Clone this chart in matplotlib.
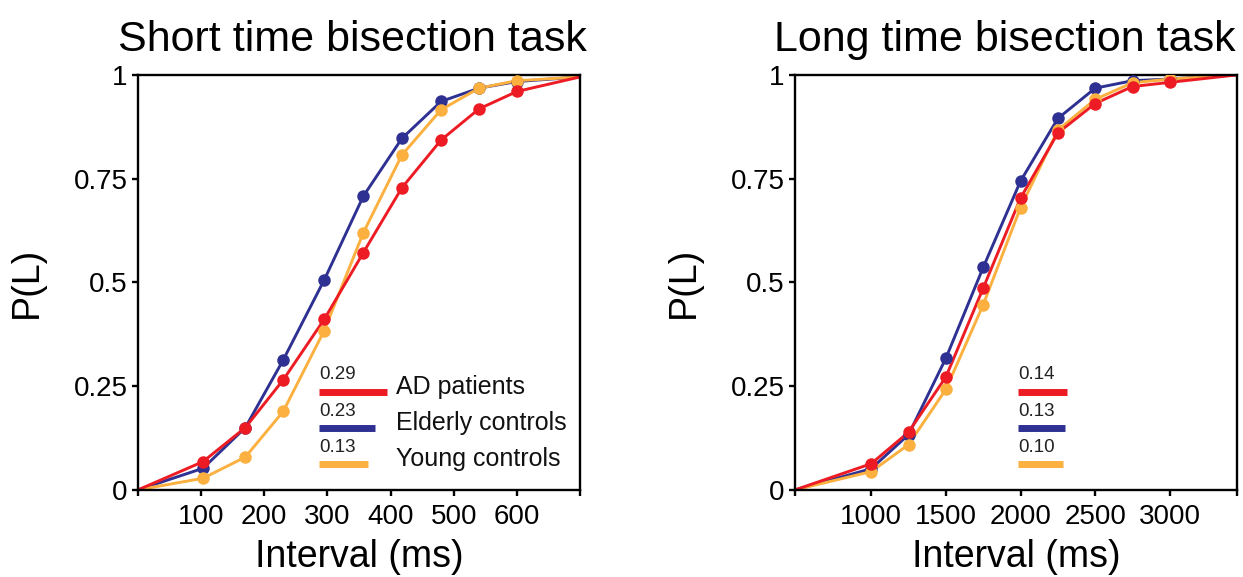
import numpy as np
import matplotlib
matplotlib.use('Agg')
import matplotlib.pyplot as plt

plt.rcParams.update({
    'font.family': ['Liberation Sans', 'DejaVu Sans'],
    'axes.linewidth': 1.7,
    'xtick.major.width': 1.7, 'ytick.major.width': 1.7,
    'xtick.major.size': 4.5, 'ytick.major.size': 4.5,
})

RED = '#ED1C24'
BLUE = '#2E3192'
ORANGE = '#FBB040'

# Short task: intervals (ms) and P(L) per group
short_x = [103, 170, 230, 295, 357, 418, 480, 540, 600]
short_ad = [0.068, 0.150, 0.265, 0.411, 0.572, 0.728, 0.843, 0.918, 0.960]
short_elderly = [0.052, 0.150, 0.313, 0.506, 0.708, 0.847, 0.936, 0.968, 0.984]
short_young = [0.028, 0.079, 0.189, 0.384, 0.620, 0.807, 0.916, 0.968, 0.986]
short_ends = [(0, 0.0), (700, 0.995)]

# Long task
long_x = [1000, 1250, 1500, 1750, 2000, 2250, 2500, 2750, 3000]
long_ad = [0.063, 0.139, 0.272, 0.486, 0.703, 0.860, 0.931, 0.972, 0.982]
long_elderly = [0.051, 0.133, 0.317, 0.536, 0.744, 0.895, 0.968, 0.986, 0.990]
long_young = [0.044, 0.109, 0.242, 0.446, 0.680, 0.867, 0.941, 0.981, 0.990]
long_ends = [(490, 0.0), (3450, 1.0)]

groups = ['AD patients', 'Elderly controls', 'Young controls']
colors = [RED, BLUE, ORANGE]
short_vals = ['0.29', '0.23', '0.13']
long_vals = ['0.14', '0.13', '0.10']

short_ticks = [0, 100, 200, 300, 400, 500, 600, 700]
short_ticklabels = ['', '100', '200', '300', '400', '500', '600', '']
long_ticks = [490, 1000, 1500, 2000, 2500, 3000, 3450]
long_ticklabels = ['', '1000', '1500', '2000', '2500', '3000', '']

fig = plt.figure(figsize=(12.43, 5.77), dpi=100)
ax1 = fig.add_axes([0.111, 0.151, 0.3556, 0.7192])
ax2 = fig.add_axes([0.6396, 0.151, 0.3556, 0.7192])


def draw_panel(ax, x, series, ends, ticks, ticklabels, title, title_x,
               vals, bar_ends, show_names):
    # blue drawn first, then orange, red on top
    for i in [1, 2, 0]:
        xs = [ends[0][0]] + list(x) + [ends[1][0]]
        ys = [ends[0][1]] + list(series[i]) + [ends[1][1]]
        ax.plot(xs, ys, color=colors[i], lw=2.1, zorder=2)
        ax.plot(x, series[i], 'o', color=colors[i], ms=9, mec='none', zorder=3)
    ax.set_xlim(ends[0][0], ends[1][0])
    ax.set_ylim(0, 1)
    ax.set_xticks(ticks)
    ax.set_xticklabels(ticklabels)
    ax.set_yticks([0, 0.25, 0.5, 0.75, 1])
    ax.set_yticklabels(['0', '0.25', '0.5', '0.75', '1'])
    ax.tick_params(labelsize=20, pad=3)
    ax.tick_params(axis='x', pad=6)
    ax.set_xlabel('Interval (ms)', fontsize=27, labelpad=6)
    ax.set_ylabel('P(L)', fontsize=27, labelpad=21)
    ax.set_title(title, fontsize=31, pad=17, x=title_x)

    # legend-like annotation: value above a coloured bar
    bar_y = [0.237, 0.149, 0.062]
    for i in range(3):
        ax.plot([bar_ends[0], bar_ends[1][i]], [bar_y[i], bar_y[i]],
                color=colors[i], lw=5, solid_capstyle='butt',
                transform=ax.transAxes, zorder=4)
        ax.text(bar_ends[0], bar_y[i] + 0.02, vals[i], transform=ax.transAxes,
                fontsize=13.5, ha='left', va='bottom', color='#222222')
        if show_names:
            ax.text(0.584, bar_y[i] + 0.012, groups[i], transform=ax.transAxes,
                    fontsize=18, ha='left', va='center', color='#111111')


draw_panel(ax1, short_x, [short_ad, short_elderly, short_young], short_ends,
           short_ticks, short_ticklabels, 'Short time bisection task', 0.486,
           short_vals, (0.4095, [0.563, 0.536, 0.520]), True)
draw_panel(ax2, long_x, [long_ad, long_elderly, long_young], long_ends,
           long_ticks, long_ticklabels, 'Long time bisection task', 0.474,
           long_vals, (0.5045, [0.615, 0.611, 0.606]), False)

fig.savefig('out.png', dpi=100, facecolor='white')
